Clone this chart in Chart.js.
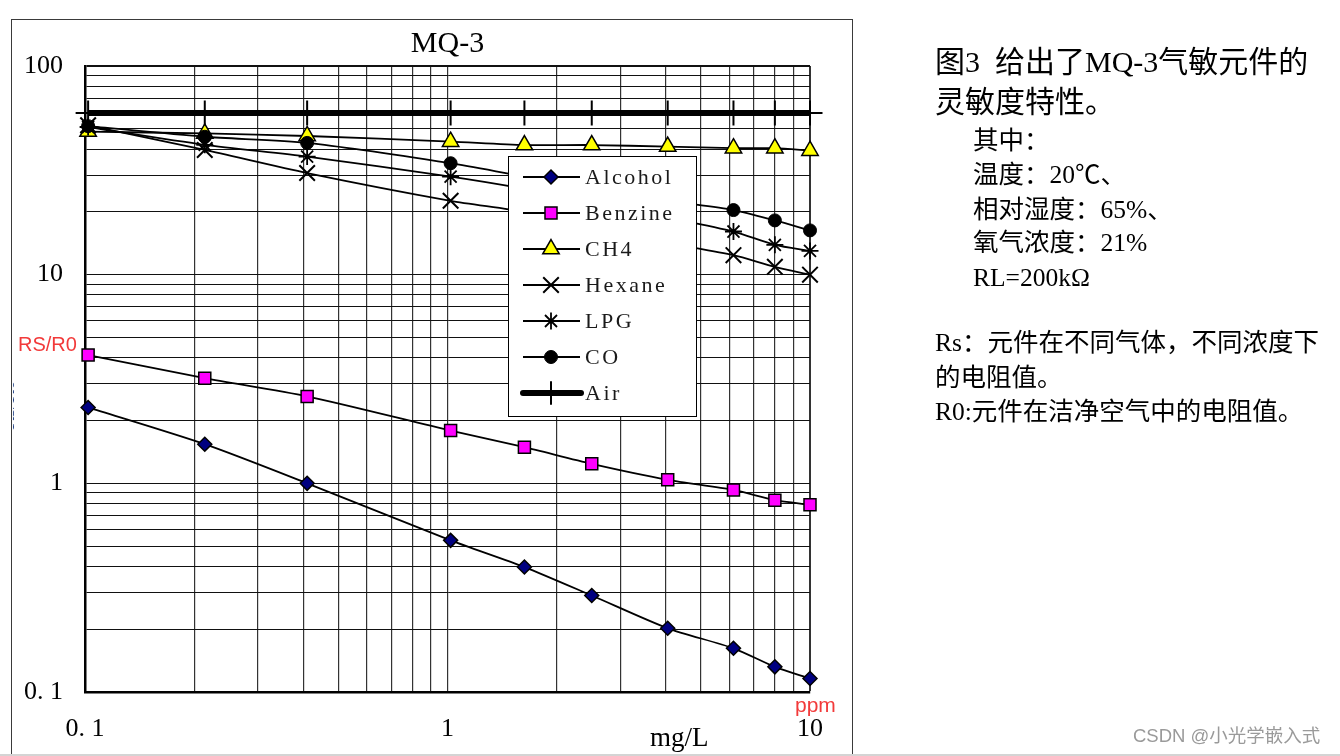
<!DOCTYPE html>
<html>
<head>
<meta charset="utf-8">
<title>MQ-3</title>
<script src="https://cdn.jsdelivr.net/npm/chart.js@4/dist/chart.umd.min.js"></script>
<style>
  html, body { margin: 0; padding: 0; background: #fff; }
  #wrap { position: relative; width: 1340px; height: 756px; overflow: hidden; background: #fff; }
  #frame { position: absolute; left: 11px; top: 19px; width: 840px; height: 760px;
           border: 1.5px solid #3a3a3a; border-bottom: none; }
  #bottomLine { position: absolute; left: 0; top: 754px; width: 1340px; height: 2px; background: #d4d4d4; }
  #chart { position: absolute; left: 0; top: 0; }
  .note { position: absolute; white-space: nowrap; font-family: "Liberation Serif", "Noto Sans CJK SC", serif; color: #000; }
  .big { font-size: 30px; line-height: 40px; }
  .mid { font-size: 25.5px; line-height: 34px; }
  .red { position: absolute; white-space: nowrap; font-family: "Liberation Sans", Arial, sans-serif; color: #f23a3a; line-height: 1; }
  #unit { position: absolute; left: 650px; top: 721px; font-family: "Liberation Serif", serif; font-size: 27px; line-height: 32px; }
  #wm { position: absolute; left: 1133px; top: 725px; font-family: "Liberation Sans", "Noto Sans CJK SC", sans-serif;
        font-size: 18.5px; line-height: 22px; color: #9a9a9a; white-space: nowrap; }
  #ghost { position: absolute; left: 13px; top: 380px; width: 4px; height: 60px; overflow: hidden; }
  #ghost span { position: absolute; left: -17px; top: 0; writing-mode: vertical-rl; transform: rotate(180deg);
                font-family: "Liberation Serif", serif; font-size: 20px; color: #2b4a8a; }
</style>
</head>
<body>
<div id="wrap">
  <div id="frame"></div>
  <div id="bottomLine"></div>
  <canvas id="chart" width="1340" height="756"></canvas>

  <div class="red" style="left:18px; top:334px; font-size:20px;">RS/R0</div>
  <div id="ghost"><span>Rs/R0</span></div>
  <div class="red" style="left:795px; top:694px; font-size:21px;">ppm</div>
  <div id="unit">mg/L</div>

  <div class="note big" style="left:935px; top:42px;">图3&nbsp;&nbsp;给出了MQ-3气敏元件的</div>
  <div class="note big" style="left:935px; top:82px;">灵敏度特性。</div>
  <div class="note mid" style="left:973px; top:124px;">其中：</div>
  <div class="note mid" style="left:973px; top:158px;">温度：20℃、</div>
  <div class="note mid" style="left:973px; top:193px;">相对湿度：65%、</div>
  <div class="note mid" style="left:973px; top:226px;">氧气浓度：21%</div>
  <div class="note mid" style="left:973px; top:261px;">RL=200kΩ</div>
  <div class="note mid" style="left:935px; top:326px;">Rs：元件在不同气体，不同浓度下</div>
  <div class="note mid" style="left:935px; top:361px;">的电阻值。</div>
  <div class="note mid" style="left:935px; top:395px;">R0:元件在洁净空气中的电阻值。</div>

  <div id="wm">CSDN @小光学嵌入式</div>
</div>

<script>
// concentration (x) where every gas was measured
const gasX = [0.102, 0.214, 0.41, 1.02, 1.63, 2.5, 4.05, 6.15, 8.0, 10];

// Rs/R0 readings per gas
const alcohol = [2.31, 1.54, 1.0, 0.533, 0.397, 0.29, 0.202, 0.162, 0.132, 0.116];
const benzine = [4.12, 3.19, 2.61, 1.79, 1.49, 1.24, 1.04, 0.93, 0.83, 0.79];
const ch4     = [48.5, 47.5, 46.2, 43.4, 41.8, 41.8, 41.1, 40.4, 40.4, 39.3];
const hexane  = [52, 39.6, 30.7, 22.6, 20.0, 17.0, 14.2, 12.4, 10.9, 10.0];
const lpg     = [51, 41.9, 36.8, 29.5, 25.8, 22.3, 18.8, 16.1, 13.9, 13.0];
const co      = [51.5, 45.8, 42.8, 34.2, 29.5, 26.1, 22.6, 20.4, 18.2, 16.3];
const air     = [59.5, 59.5, 59.5, 59.5, 59.5, 59.5, 59.5, 59.5, 59.5, 59.5];

const seriesNames = ['Alcohol', 'Benzine', 'CH4', 'Hexane', 'LPG', 'CO', 'Air'];

// labelled ticks
const xLabelValues = [0.1, 1, 10];
const xLabelTexts = ['0. 1', '1', '10'];
const yLabelValues = [0.1, 1, 10, 100];
const yLabelTexts = ['0. 1', '1', '10', '100'];

// log grid: 1..9 per decade
function logGrid(decades, last) {
  const out = [];
  decades.forEach(d => {
    for (let k = 1; k <= 9; k++) out.push(+(d * k).toPrecision(6));
  });
  out.push(last);
  return out;
}
const xGrid = logGrid([0.1, 1], 10);
const yGrid = logGrid([0.1, 1, 10], 100);

function labelFor(values, texts, v) {
  for (let i = 0; i < values.length; i++) {
    if (Math.abs(values[i] - v) < 1e-9) return texts[i];
  }
  return '';
}

function pts(arr) {
  return gasX.map((x, i) => ({ x: x, y: arr[i] }));
}

function gas(label, values, style, radius, fill, bw) {
  return {
    label: label,
    data: pts(values),
    borderColor: '#000',
    borderWidth: 1.8,
    tension: 0.25,
    clip: false,
    pointStyle: style,
    pointRadius: radius,
    pointBackgroundColor: fill,
    pointBorderColor: '#000',
    pointBorderWidth: bw
  };
}

const datasets = [
  gas('Alcohol', alcohol, 'rectRot', 7, '#000080', 1.5),
  gas('Benzine', benzine, 'rect', 8.5, '#ff00ff', 1.5),
  gas('CH4', ch4, 'triangle', 9.5, '#ffff00', 1.5),
  gas('Hexane', hexane, 'crossRot', 11, '#000', 2),
  gas('LPG', lpg, 'star', 8.5, '#000', 1.8),
  gas('CO', co, 'circle', 6.5, '#000', 1),
  {
    label: 'Air',
    data: pts(air),
    borderColor: '#000',
    borderWidth: 6,
    tension: 0,
    clip: false,
    pointStyle: 'cross',
    pointRadius: 12.5,
    pointBackgroundColor: '#000',
    pointBorderColor: '#000',
    pointBorderWidth: 2
  }
];
// later series on top (like the original)
datasets.forEach((d, i) => { d.order = datasets.length - i; });

function markerAt(ctx, ds, x, y) {
  ctx.save();
  ctx.fillStyle = ds.pointBackgroundColor;
  ctx.strokeStyle = ds.pointBorderColor;
  ctx.lineWidth = ds.pointBorderWidth;
  if (Chart.helpers && Chart.helpers.drawPoint) {
    Chart.helpers.drawPoint(ctx, {
      pointStyle: ds.pointStyle, radius: ds.pointRadius, rotation: 0, borderWidth: ds.pointBorderWidth
    }, x, y);
  } else {
    ctx.beginPath();
    ctx.arc(x, y, ds.pointRadius * 0.7, 0, Math.PI * 2);
    ctx.fill();
    ctx.stroke();
  }
  ctx.restore();
}

// boxed legend sitting inside the plot, covering the lines
const boxLegend = {
  id: 'boxLegend',
  afterDatasetsDraw(chart) {
    const ctx = chart.ctx;
    const a = chart.chartArea;
    const bx = a.left + 423, by = a.top + 90, bw = 188, bh = 260;
    ctx.save();
    ctx.fillStyle = '#fff';
    ctx.fillRect(bx, by, bw, bh);
    ctx.strokeStyle = '#000';
    ctx.lineWidth = 1;
    ctx.strokeRect(bx + 0.5, by + 0.5, bw, bh);
    ctx.font = '22px "Liberation Serif", serif';
    if ('letterSpacing' in ctx) ctx.letterSpacing = '2.5px';
    ctx.textBaseline = 'middle';
    chart.data.datasets.forEach((ds, i) => {
      const y = by + 21 + i * 36;
      ctx.beginPath();
      ctx.strokeStyle = '#000';
      if (ds.label === 'Air') {
        ctx.lineWidth = 6;
        ctx.lineCap = 'round';
        ctx.moveTo(bx + 15, y);
        ctx.lineTo(bx + 73, y);
      } else {
        ctx.lineWidth = 1.8;
        ctx.lineCap = 'butt';
        ctx.moveTo(bx + 15, y);
        ctx.lineTo(bx + 72, y);
      }
      ctx.stroke();
      const m = Object.assign({}, ds);
      if (ds.label === 'Air') m.pointRadius = 11;
      markerAt(ctx, m, bx + 43, y);
      ctx.fillStyle = '#1a1a1a';
      ctx.fillText(seriesNames[i], bx + 77, y + 1);
    });
    ctx.restore();
  }
};

const tickFont = { family: '"Liberation Serif", serif', size: 26 };

new Chart(document.getElementById('chart'), {
  type: 'line',
  data: { datasets: datasets },
  options: {
    responsive: false,
    animation: false,
    devicePixelRatio: 1,
    layout: { padding: { left: 0, right: 530, top: 0, bottom: 0 } },
    plugins: {
      legend: { display: false },
      tooltip: { enabled: false },
      title: {
        display: true,
        text: 'MQ-3',
        fullSize: false,
        color: '#000',
        font: { family: '"Liberation Serif", serif', size: 30, weight: 'normal', lineHeight: 1.2 },
        padding: { top: 26, bottom: 4 }
      }
    },
    scales: {
      x: {
        type: 'logarithmic',
        min: 0.1,
        max: 10,
        afterBuildTicks: s => { s.ticks = xGrid.map(v => ({ value: v })); },
        afterFit: s => { s.height = 64; },
        border: { display: true, color: '#000', width: 2.5 },
        grid: {
          drawTicks: false,
          color: '#333',
          lineWidth: c => (c.tick && c.tick.value === 10) ? 2 : 1.2
        },
        ticks: {
          autoSkip: false,
          maxRotation: 0,
          minRotation: 0,
          padding: 22,
          color: '#000',
          font: tickFont,
          callback: v => labelFor(xLabelValues, xLabelTexts, v)
        }
      },
      y: {
        type: 'logarithmic',
        min: 0.1,
        max: 100,
        afterBuildTicks: s => { s.ticks = yGrid.map(v => ({ value: v })); },
        afterFit: s => { s.width = 85; },
        border: { display: true, color: '#000', width: 2.5 },
        grid: {
          drawTicks: false,
          color: '#111',
          lineWidth: c => (c.tick && c.tick.value === 100) ? 2 : 1
        },
        ticks: {
          autoSkip: false,
          padding: 22,
          color: '#000',
          font: tickFont,
          callback: v => labelFor(yLabelValues, yLabelTexts, v)
        }
      }
    }
  },
  plugins: [boxLegend]
});
</script>
</body>
</html>
